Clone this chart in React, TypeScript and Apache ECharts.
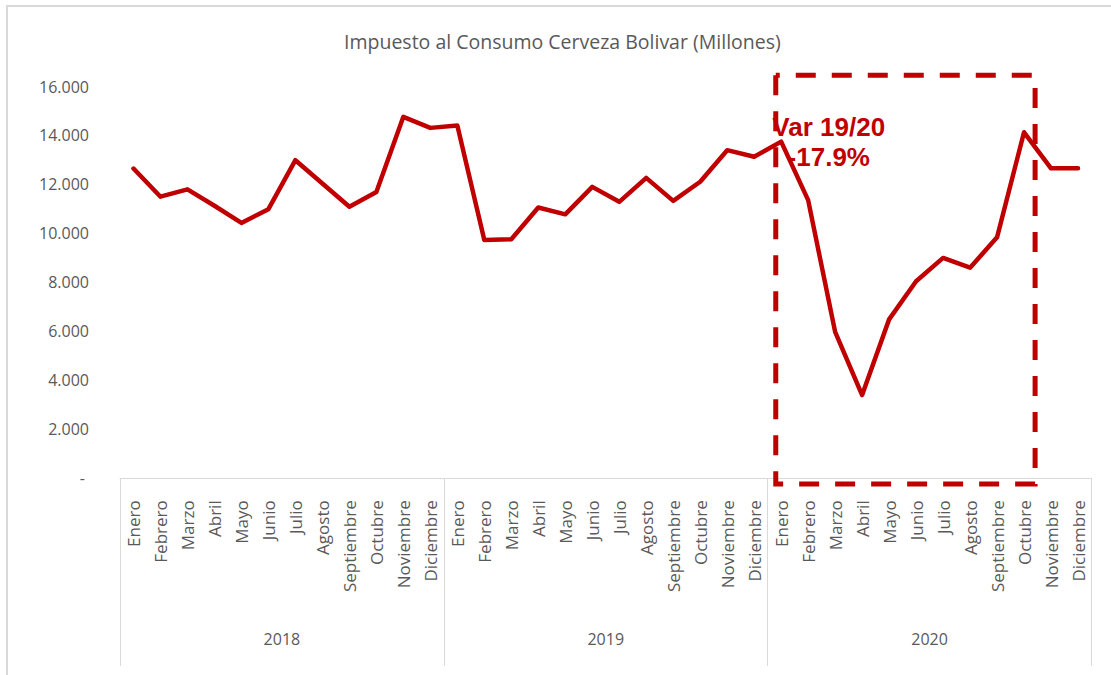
import React, { useEffect, useRef } from "react";
import * as echarts from "echarts";

const TITLE = "Impuesto al Consumo Cerveza Bolivar (Millones)";
const MONTHS = [
  "Enero", "Febrero", "Marzo", "Abril", "Mayo", "Junio",
  "Julio", "Agosto", "Septiembre", "Octubre", "Noviembre", "Diciembre",
];
const YEARS = ["2018", "2019", "2020"];
const VALUES_2018 = [12650, 11500, 11800, 11130, 10430, 10990, 12990, 12040, 11090, 11690, 14760, 14310];
const VALUES_2019 = [14410, 9730, 9760, 11060, 10780, 11900, 11290, 12270, 11330, 12110, 13400, 13130];
const VALUES_2020 = [13750, 11360, 5980, 3400, 6490, 8050, 9000, 8600, 9840, 14130, 12660, 12660];
const Y_MIN = 0;
const Y_MAX = 16000;
const Y_INTERVAL = 2000;
const NOTE_LINES = ["Var 19/20", "-17.9%"];
// highlighted period: Enero 2020 .. Octubre 2020
const HIGHLIGHT_FROM = 24;
const HIGHLIGHT_TO = 33;
const HIGHLIGHT_TOP = 16460;
const HIGHLIGHT_BOTTOM = -230;

const RED = "#C00000";
const GREY_TEXT = "#595959";
const GREY_LINE = "#D9D9D9";
const FONT = "'Open Sans', sans-serif";

const fmt = (v: number) =>
  v === 0 ? "-\u00A0" : String(v).replace(/\B(?=(\d{3})+(?!\d))/g, ".");

export default function App() {
  const ref = useRef<HTMLDivElement>(null);
  useEffect(() => {
    if (!ref.current) return;
    const chart = echarts.init(ref.current, undefined, { renderer: "svg" });
    const categories = [...MONTHS, ...MONTHS, ...MONTHS];
    const values = [...VALUES_2018, ...VALUES_2019, ...VALUES_2020];
    chart.setOption({
      animation: false,
      backgroundColor: "#ffffff",
      title: {
        text: TITLE,
        left: 344,
        top: 31,
        padding: 0,
        textStyle: { fontFamily: FONT, fontSize: 19.5, fontWeight: "normal", color: GREY_TEXT },
      },
      grid: { left: 120, right: 19.5, top: 86.5, bottom: 196.7, containLabel: false },
      xAxis: [
        {
          type: "category",
          data: categories,
          position: "bottom",
          boundaryGap: true,
          axisLine: { show: true, lineStyle: { color: GREY_LINE, width: 1 } },
          axisTick: { show: false },
          axisLabel: {
            interval: 0,
            rotate: 90,
            margin: 22,
            fontFamily: FONT,
            fontSize: 17,
            color: GREY_TEXT,
          },
          splitLine: { show: false },
        },
        {
          type: "category",
          data: YEARS,
          position: "bottom",
          boundaryGap: true,
          axisLine: { show: false },
          axisTick: { show: true, interval: 0, length: 187.5, lineStyle: { color: GREY_LINE, width: 1 } },
          axisLabel: { interval: 0, margin: 152.5, fontFamily: FONT, fontSize: 16, color: GREY_TEXT },
          splitLine: { show: false },
        },
      ],
      yAxis: {
        type: "value",
        min: Y_MIN,
        max: Y_MAX,
        interval: Y_INTERVAL,
        axisLine: { show: false },
        axisTick: { show: false },
        splitLine: { show: false },
        axisLabel: { margin: 31, fontFamily: FONT, fontSize: 16, color: GREY_TEXT, formatter: fmt },
      },
      series: [
        {
          type: "line",
          xAxisIndex: 0,
          yAxisIndex: 0,
          data: values,
          symbol: "none",
          smooth: false,
          lineStyle: { color: RED, width: 4.5, join: "round", cap: "round" },
          z: 5,
        },
      ],
    });

    const x0 = chart.convertToPixel({ xAxisIndex: 0 }, HIGHLIGHT_FROM) as number;
    const x1 = chart.convertToPixel({ xAxisIndex: 0 }, HIGHLIGHT_FROM + 1) as number;
    const step = x1 - x0;
    const xr = chart.convertToPixel({ xAxisIndex: 0 }, HIGHLIGHT_TO) as number;
    const yTop = chart.convertToPixel({ yAxisIndex: 0 }, HIGHLIGHT_TOP) as number;
    const yBot = chart.convertToPixel({ yAxisIndex: 0 }, HIGHLIGHT_BOTTOM) as number;
    const left = x0 - 0.2 * step;
    const right = xr + 0.41 * step;

    chart.setOption({
      graphic: [
        {
          type: "rect",
          silent: true,
          z: -10,
          shape: { x: 7, y: 6, width: 1200, height: 800 },
          style: { fill: "none", stroke: GREY_LINE, lineWidth: 2 },
        },
        {
          type: "rect",
          silent: true,
          z: 10,
          shape: { x: left, y: yTop, width: right - left, height: yBot - yTop },
          style: { fill: "none", stroke: RED, lineWidth: 5, lineDash: [20, 16], lineDashOffset: 16 },
        },
        {
          type: "text",
          silent: true,
          z: 11,
          x: left + 53,
          y: yTop + 37,
          style: {
            text: NOTE_LINES.join("\n"),
            fontFamily: "'Liberation Sans', Arial, sans-serif",
            fontSize: 26,
            fontWeight: "bold",
            lineHeight: 30,
            fill: RED,
            align: "center",
            verticalAlign: "top",
          },
        },
      ],
    });

    return () => chart.dispose();
  }, []);
  return (
    <div
      ref={ref}
      style={{ position: "absolute", left: 0, top: 0, width: 1111, height: 675, background: "#fff" }}
    />
  );
}
